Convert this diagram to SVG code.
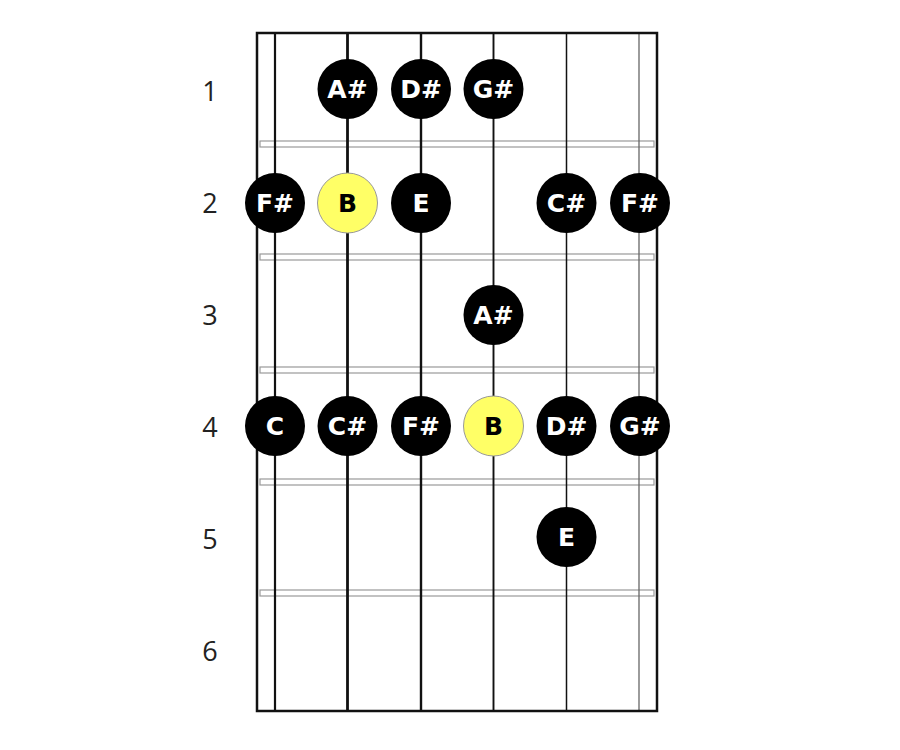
<svg xmlns="http://www.w3.org/2000/svg" width="900" height="750" viewBox="0 0 900 750">
<style>
.fret{fill:#fff;stroke:#999;stroke-width:1.2}
.str{stroke:#111;fill:none}
.frame{stroke:#111;stroke-width:2.5;fill:none}
.lbl{font-family:"Open Sans","DejaVu Sans",sans-serif;font-size:27px;fill:#222;text-anchor:middle}
.dot{fill:#000}
.root{fill:#ffff66;stroke:#999;stroke-width:1}
.nt{font-family:"DejaVu Sans","Liberation Sans",sans-serif;font-weight:bold;font-size:25px;fill:#fff;text-anchor:middle}
.rt{font-family:"DejaVu Sans","Liberation Sans",sans-serif;font-weight:bold;font-size:25px;fill:#000;text-anchor:middle}
</style>
<rect width="900" height="750" fill="#fff"/>
<g id="frets">
<rect class="fret" x="260" y="141" width="394" height="6"/>
<rect class="fret" x="260" y="254" width="394" height="6"/>
<rect class="fret" x="260" y="367" width="394" height="6"/>
<rect class="fret" x="260" y="479" width="394" height="6"/>
<rect class="fret" x="260" y="590" width="394" height="6"/>
</g>
<g id="strings">
<line class="str" x1="275" y1="33" x2="275" y2="711" stroke-width="2.2"/>
<line class="str" x1="347.5" y1="33" x2="347.5" y2="711" stroke-width="2.8"/>
<line class="str" x1="421" y1="33" x2="421" y2="711" stroke-width="2.4"/>
<line class="str" x1="493.5" y1="33" x2="493.5" y2="711" stroke-width="1.9"/>
<line class="str" x1="566.5" y1="33" x2="566.5" y2="711" stroke-width="1.5"/>
<line x1="639" y1="33" x2="639" y2="711" stroke="#666" stroke-width="1.3"/>
</g>
<g id="frame">
<rect class="frame" x="257" y="33" width="400" height="678"/>
</g>
<g id="labels">
<text class="lbl" x="210" y="101">1</text>
<text class="lbl" x="210" y="213">2</text>
<text class="lbl" x="210" y="325">3</text>
<text class="lbl" x="210" y="437">4</text>
<text class="lbl" x="210" y="549">5</text>
<text class="lbl" x="210" y="661">6</text>
</g>
<g id="r1">
<circle class="dot" cx="347.5" cy="89" r="30"/><text class="nt" x="347.5" y="98">A#</text>
<circle class="dot" cx="421" cy="89" r="30"/><text class="nt" x="421" y="98">D#</text>
<circle class="dot" cx="493.5" cy="89" r="30"/><text class="nt" x="493.5" y="98">G#</text>
</g>
<g id="r2">
<circle class="dot" cx="275" cy="203" r="30"/><text class="nt" x="275" y="212">F#</text>
<circle class="root" cx="347.5" cy="203" r="30"/><text class="rt" x="347.5" y="212">B</text>
<circle class="dot" cx="421" cy="203" r="30"/><text class="nt" x="421" y="212">E</text>
<circle class="dot" cx="566.5" cy="203" r="30"/><text class="nt" x="566.5" y="212">C#</text>
<circle class="dot" cx="640" cy="203" r="30"/><text class="nt" x="640" y="212">F#</text>
</g>
<g id="r3">
<circle class="dot" cx="493.5" cy="315" r="30"/><text class="nt" x="493.5" y="324">A#</text>
</g>
<g id="r4">
<circle class="dot" cx="275" cy="426" r="30"/><text class="nt" x="275" y="435">C</text>
<circle class="dot" cx="347.5" cy="426" r="30"/><text class="nt" x="347.5" y="435">C#</text>
<circle class="dot" cx="421" cy="426" r="30"/><text class="nt" x="421" y="435">F#</text>
<circle class="root" cx="493.5" cy="426" r="30"/><text class="rt" x="493.5" y="435">B</text>
<circle class="dot" cx="566.5" cy="426" r="30"/><text class="nt" x="566.5" y="435">D#</text>
<circle class="dot" cx="640" cy="426" r="30"/><text class="nt" x="640" y="435">G#</text>
</g>
<g id="r5">
<circle class="dot" cx="566.5" cy="537" r="30"/><text class="nt" x="566.5" y="546">E</text>
</g>
</svg>
